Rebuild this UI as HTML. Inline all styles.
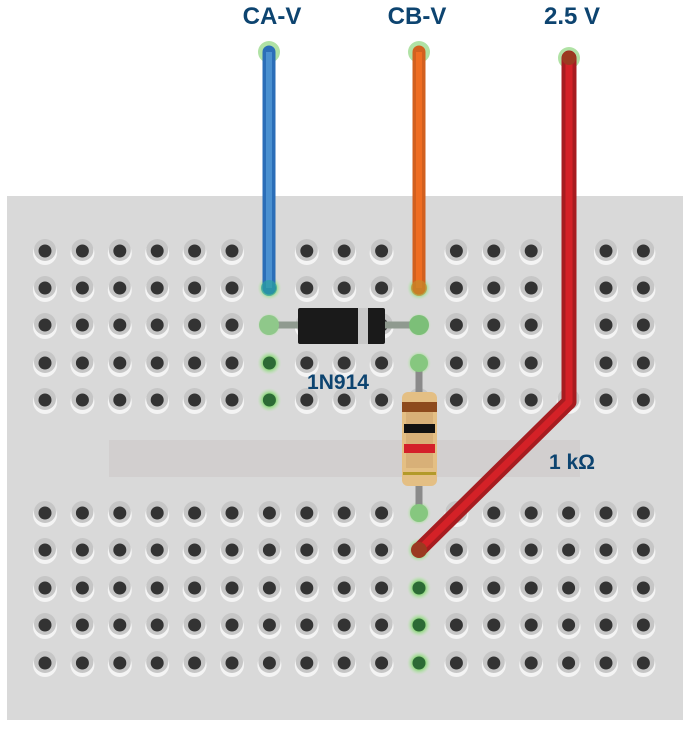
<!DOCTYPE html>
<html><head><meta charset="utf-8"><style>
html,body{margin:0;padding:0;background:#fff;width:691px;height:730px;overflow:hidden}
svg{display:block}
text{font-family:"Liberation Sans",Arial,sans-serif;font-weight:bold;fill:#0d4470}
</style></head><body>
<svg width="691" height="730" viewBox="0 0 691 730" xmlns="http://www.w3.org/2000/svg">
<defs>
<radialGradient id="gl" cx="0.5" cy="0.5" r="0.5">
<stop offset="0.55" stop-color="#8fd67f"/><stop offset="1" stop-color="#bfe8b4" stop-opacity="0"/>
</radialGradient>
<g id="h">
<circle cx="0" cy="2" r="12" fill="#f4f4f4"/>
<circle cx="0" cy="-1" r="11" fill="#c6c6c6"/>
<circle cx="0" cy="0" r="6.5" fill="#333"/>
</g>
<g id="g">
<circle cx="0" cy="0" r="12" fill="url(#gl)"/>
<circle cx="0" cy="0" r="6.5" fill="#2c6a35"/>
</g>
</defs>
<rect x="7" y="196" width="676" height="524" fill="#d9d9d9"/>
<rect x="109" y="440" width="471" height="37" fill="#d2cfcf"/>
<g id="holes"></g>
<text x="272" y="24" font-size="24" text-anchor="middle">CA-V</text>
<text x="417" y="24" font-size="24" text-anchor="middle">CB-V</text>
<text x="572" y="24" font-size="24" text-anchor="middle">2.5 V</text>
<text x="338" y="389" font-size="21" text-anchor="middle">1N914</text>
<text x="572" y="469" font-size="21" text-anchor="middle">1 kΩ</text>
</svg>
<script>
(function(){
var ns="http://www.w3.org/2000/svg",svg=document.querySelector('svg'),H=document.getElementById('holes');
var rows=[251,288,325,363,400,513,550,588,625,663];
var green={"6,1":1,"6,2":1,"6,3":1,"6,4":1,"10,1":1,"10,2":1,"10,3":1,"10,5":1,"10,6":1,"10,7":1,"10,8":1,"10,9":1};
var skip={"6,0":1,"10,0":1,"14,0":1,"14,1":1,"14,2":1,"14,3":1};
for(var r=0;r<10;r++)for(var c=0;c<17;c++){
 var k=c+","+r;
 if(skip[k])continue;
 var u=document.createElementNS(ns,'use');
 u.setAttribute('href',green[k]?'#g':'#h');
 u.setAttribute('x',(45+37.4*c).toFixed(1));u.setAttribute('y',rows[r]);
 H.appendChild(u);}
var extra='\
<line x1="269" y1="325" x2="419" y2="325" stroke="#8f9a8f" stroke-width="7"/>\
<circle cx="269" cy="325" r="10" fill="#8fc88a"/><circle cx="419" cy="325" r="10" fill="#7cbf78"/>\
<rect x="298" y="308" width="87" height="36" rx="2" fill="#1a1a1a"/>\
<rect x="358" y="308" width="10" height="36" fill="#c8c8c8"/>\
<line x1="419" y1="363" x2="419" y2="513" stroke="#8a8a8a" stroke-width="7"/>\
<circle cx="419" cy="363" r="9" fill="#86c77f"/><circle cx="419" cy="513" r="9" fill="#86c77f"/>\
<rect x="402" y="392" width="35" height="94" rx="6" fill="#e4bf84"/>\
<rect x="406" y="412" width="27" height="56" fill="#d8b078"/>\
<rect x="402" y="402" width="35" height="10" fill="#8d4a1d"/>\
<rect x="404" y="424" width="31" height="9" fill="#111"/>\
<rect x="404" y="444" width="31" height="9" fill="#d4202a"/>\
<rect x="403" y="472" width="33" height="3" fill="#b39a2a"/>\
<circle cx="269" cy="52" r="11" fill="#8fd67f" opacity="0.7"/>\
<line x1="269" y1="52" x2="269" y2="288" stroke="#2b6eb8" stroke-width="13" stroke-linecap="round"/>\
<line x1="269" y1="52" x2="269" y2="288" stroke="#4a90d0" stroke-width="6"/>\
<circle cx="269" cy="288" r="8" fill="#2aa0a0" opacity="0.7"/>\
<circle cx="419" cy="52" r="11" fill="#8fd67f" opacity="0.7"/>\
<line x1="419" y1="52" x2="419" y2="288" stroke="#d2601f" stroke-width="13" stroke-linecap="round"/>\
<line x1="419" y1="52" x2="419" y2="288" stroke="#ef6d22" stroke-width="6"/>\
<circle cx="419" cy="288" r="8" fill="#c48a2a" opacity="0.7"/>\
<circle cx="569" cy="58" r="11" fill="#8fd67f" opacity="0.7"/>\
<polyline points="569,58 569,402 419,550" fill="none" stroke="#a71c20" stroke-width="15" stroke-linecap="round" stroke-linejoin="round"/>\
<polyline points="569,58 569,402 419,550" fill="none" stroke="#d42127" stroke-width="7" stroke-linejoin="round"/>\
<circle cx="569" cy="58" r="7" fill="#9b3a20"/>\
<circle cx="419" cy="550" r="8" fill="#9b3a20"/>';
var tmp=document.createElementNS(ns,'g');tmp.innerHTML=extra;
svg.insertBefore(tmp,svg.querySelector('text'));
})();
</script>
</body></html>
